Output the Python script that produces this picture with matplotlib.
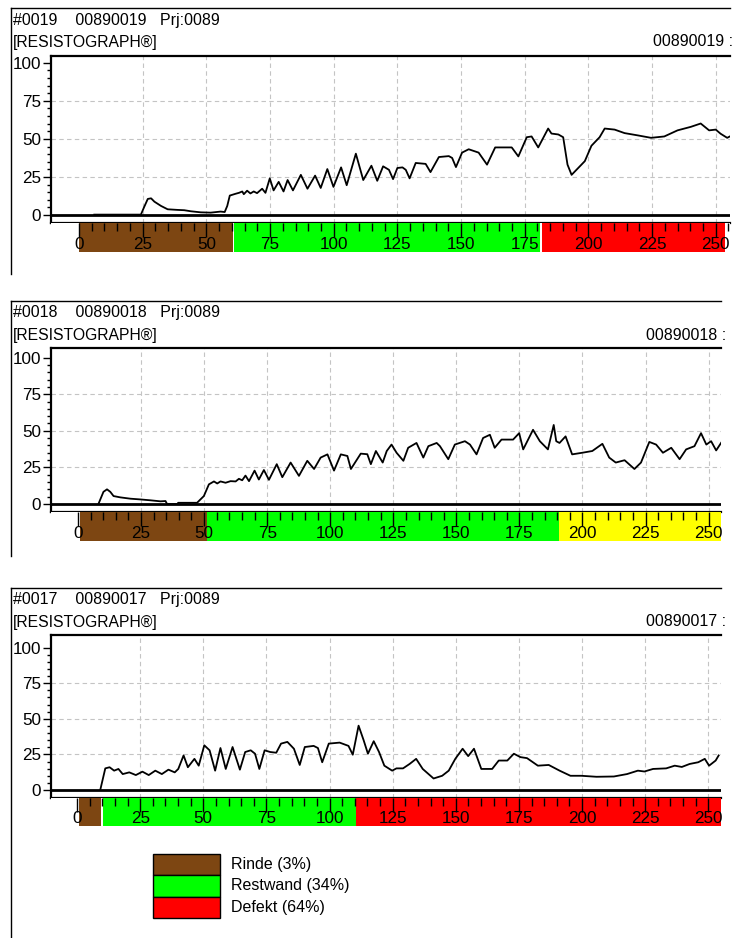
import matplotlib
matplotlib.use('Agg')
import matplotlib.pyplot as plt
from matplotlib.ticker import FixedLocator
from matplotlib.lines import Line2D
from matplotlib.patches import Rectangle

plt.rcParams['font.family'] = ['Liberation Sans', 'DejaVu Sans']
plt.rcParams['font.size'] = 11

# measurement numbers, project
ids = ['0019', '0018', '0017']
project = '0089'

# (depth, amplitude %)
profile_0019 = [
    (6, 0.3), (24.3, 0.3), (25.5, 5), (27, 10.6), (28.3, 11), (29.6, 8.8), (32.2, 6), (34.8, 3.8),
    (38.7, 3.4), (41.3, 3.2), (43.9, 2.5), (47.8, 1.8), (51.7, 1.6), (55.6, 2.3), (57.2, 2),
    (58.2, 6), (59.2, 12.8), (61.5, 14), (62.8, 14.6), (64.1, 15.5), (64.7, 13.7), (66, 16),
    (67.3, 14.2), (68.6, 15.5), (69.9, 14.4), (71.9, 17.3), (73.2, 14.6), (74.9, 24.1), (76.4, 16.2),
    (78.4, 21.8), (80.3, 15.5), (81.9, 23), (84, 16.2), (87.1, 26.4), (89.7, 17.3), (92.7, 25.9),
    (94.9, 17.8), (97.5, 30.2), (99.9, 18.5), (102.9, 31.3), (105.1, 19.6), (108.7, 40.3),
    (111.6, 23), (114.8, 32.4), (117.1, 22.5), (119.4, 32), (121.7, 29.7), (123.3, 23.6),
    (125, 30.9), (127, 31.3), (128.3, 29.7), (129.8, 24.1), (132.2, 34.2), (136.1, 33.6),
    (138, 28.2), (141.3, 38.1), (145.2, 38.7), (146.5, 37.5), (148, 31.5), (150.4, 41),
    (153, 43.2), (156.9, 41), (160.2, 33.1), (163.4, 44.4), (169.9, 44.4), (172.5, 38.5),
    (175.8, 51.1), (177.7, 51.6), (180.3, 44.4), (184.2, 56.8), (185.5, 53.5), (188.2, 52.9),
    (190.1, 51.1), (191.8, 33.1), (193.4, 26.4), (196, 30.9), (198.6, 35.4), (201.2, 45.5),
    (204.4, 51.1), (206.4, 56.8), (210.3, 56.1), (214.2, 53.8), (219.4, 52.3), (224.6, 50.7),
    (229.8, 51.6), (235, 55.6), (240.2, 57.9), (244.1, 60.1), (247.4, 55.6), (250, 56.1),
    (251.9, 53.4), (254.5, 50.7), (256, 52),
]
profile_0018 = [
    (8.2, 0.4), (10.1, 8.3), (11.5, 10), (12.8, 8.3), (14.1, 5.4), (16.8, 4.5), (20.8, 3.6),
    (24.7, 3.1), (28.7, 2.5), (32.7, 1.8), (34.7, 2), (35.3, 0), (39.5, 0), (39.7, 0.8), (47.2, 0.8),
    (49.9, 5.4), (51.9, 13.4), (53.9, 15.4), (55.2, 14), (56.5, 15.4), (58.5, 14.5), (60.5, 15.6),
    (62.5, 15.4), (63.8, 17.2), (65.1, 16.2), (66.4, 19.4), (67.8, 15.6), (70, 22.8), (71.7, 16.7),
    (73.7, 23.2), (75.7, 16.5), (78.8, 27.2), (81, 18.3), (84.3, 28.3), (87.6, 19.2), (90.9, 29.5),
    (93.6, 23.9), (96.2, 31.7), (98.9, 33.9), (101.5, 22.8), (104.2, 33.9), (106.8, 32.8),
    (108.2, 23.9), (112.1, 34.4), (114.7, 34), (116.1, 27.2), (118.1, 36.2), (120.8, 28.3),
    (122.4, 36.2), (124.3, 40.6), (126.3, 35), (129, 29.5), (130.9, 38.4), (134.2, 41.7),
    (136.9, 31.7), (138.9, 39.5), (142.2, 41.7), (143.5, 39.5), (146.8, 30.6), (149.4, 40.6),
    (153.4, 42.9), (155.4, 40.6), (158, 33.9), (160.6, 45.1), (163.3, 47.3), (165.2, 38.4),
    (167.9, 44), (172.5, 44), (174.9, 48.4), (176.5, 37.3), (180.4, 50.7), (183.1, 42.9),
    (186.3, 37.3), (188.6, 54), (189.6, 42.9), (190.9, 41.7), (193.3, 46.2), (195.9, 33.9),
    (199.9, 35), (203.9, 36.2), (207.9, 41.1), (210.6, 31.7), (213.2, 28.3), (216.7, 29.9),
    (220.6, 23.9), (223.2, 28.3), (226.5, 42.4), (229.2, 40.6), (231.9, 35), (235.2, 38.4),
    (238.5, 30.6), (241.1, 37.3), (244.4, 39.5), (247, 48.4), (249.1, 40.6), (251, 42.9),
    (253, 36.6), (255.4, 42.9),
]
profile_0017 = [
    (9.2, 0), (11.2, 15.2), (12.9, 16), (14.7, 13.6), (16.4, 14.8), (18.1, 11.2), (20.7, 12.4),
    (23.3, 10.5), (25.9, 12.9), (28.4, 10.5), (31, 13.6), (33.6, 11.2), (36.2, 14.3), (38.7, 12.4),
    (40.1, 14.8), (42.2, 24.3), (43.9, 16), (46.5, 21.9), (48.2, 17.1), (50.4, 31.4), (52.5, 27.9),
    (54.7, 13.6), (56.8, 29.5), (58.9, 14.8), (61.6, 30.2), (64.5, 14.3), (66.6, 26.7),
    (68.8, 27.9), (70.5, 25.5), (72.2, 14.8), (74.3, 27.9), (76.5, 26.7), (78.9, 26.2),
    (80.8, 32.6), (83.3, 33.8), (85.9, 29), (88.2, 17.6), (90.2, 30.2), (93.7, 31), (95.4, 29.5),
    (97.1, 19.5), (99.7, 32.6), (104, 33.3), (107.5, 31), (109.2, 24.8), (111.5, 45.2),
    (113.5, 35), (115.2, 25.5), (117.5, 34.3), (119.6, 26.7), (121.7, 17.1), (124.8, 13.6),
    (126.5, 15.2), (129.1, 15.2), (131.7, 18.3), (134.3, 21.9), (136.9, 14.8), (141.2, 8.1),
    (144.6, 10), (147.2, 13.6), (149.8, 21.9), (152.7, 29), (154.9, 23.8), (157.2, 29),
    (160.1, 14.8), (164.4, 14.8), (167, 20.7), (170.4, 20.7), (173, 25.5), (175.6, 23.1),
    (178.2, 22.4), (182.5, 17.1), (186.8, 17.6), (191.1, 13.6), (195.4, 10), (199.7, 10),
    (205.7, 9.3), (212.6, 9.5), (217.8, 11.2), (222.1, 13.6), (224.7, 13), (228.1, 14.8),
    (233.3, 15.2), (236.7, 17.1), (239.5, 16.2), (242.6, 18.3), (246, 19.5), (248.6, 21.9),
    (250.3, 17.1), (252.9, 20.7), (254.1, 24.3),
]
profiles = [profile_0019, profile_0018, profile_0017]

# zone bands under each curve: (zone, from, to)
zones_0019 = [('Rinde', 0, 60.4), ('Restwand', 61.0, 181.0), ('Defekt', 181.8, 253.6)]
zones_0018 = [('Rinde', 0.8, 51.0), ('Restwand', 51.0, 190.8), ('Markiert', 190.8, 256)]
zones_0017 = [('Rinde', 0.9, 9.4), ('Restwand', 10.4, 110.5), ('Defekt', 110.5, 256)]
zones = [zones_0019, zones_0018, zones_0017]

legend_names = ['Rinde', 'Restwand', 'Defekt']
legend_share = [3, 34, 64]

zone_colors = {'Rinde': '#7d4612', 'Restwand': '#00ff00', 'Defekt': '#ff0000', 'Markiert': '#ffff00'}

W, H = 741, 938
fig = plt.figure(figsize=(W / 100, H / 100), dpi=100)


def fx(px):
    return px / W


def fy(py):
    return 1 - py / H


# pixel layout of the three panels
layout = [
    dict(top=8, bottom=274, h1=20, h2=42, ax_top=56, ax_bot=222.7, bar_bot=252, right=730,
         xlim=(-11, 255.6), ylim=(-5, 104.4), rx=653),
    dict(top=301, bottom=556, h1=312, h2=335, ax_top=348.3, ax_bot=512.3, bar_bot=541, right=720.7,
         xlim=(-10.7, 254.8), ylim=(-5.7, 106.4), rx=646),
    dict(top=588, bottom=938, h1=599, h2=622, ax_top=635, ax_bot=797.7, bar_bot=825.7, right=720.7,
         xlim=(-10.3, 254.9), ylim=(-5.4, 108.9), rx=646),
]

for num, prof, zn, L in zip(ids, profiles, zones, layout):
    # frame + header texts
    fig.add_artist(Line2D([fx(11), fx(11)], [fy(L['top']), fy(L['bottom'])], color='black', lw=1))
    fig.add_artist(Line2D([fx(11), fx(L['right'])], [fy(L['top']), fy(L['top'])], color='black', lw=1))
    fig.text(fx(13), fy(L['h1']), f'#{num}    {project}{num}   Prj:{project}', va='center', fontsize=11.5)
    fig.text(fx(13), fy(L['h2']), '[RESISTOGRAPH®]', va='center', fontsize=11.3)
    fig.text(fx(L['rx']), fy(L['h2']), f'{project}{num} :', va='center', fontsize=11.5)

    # curve
    ax = fig.add_axes([fx(51), fy(L['ax_bot']), fx(L['right'] - 51), (L['ax_bot'] - L['ax_top']) / H])
    xs = [p[0] for p in prof]
    ys = [p[1] for p in prof]
    for g in range(25, 251, 25):
        ax.axvline(g, color='#c4c4c4', lw=0.8, ls=(0, (4, 3)), zorder=1)
    for g in (25, 50, 75):
        ax.axhline(g, color='#c4c4c4', lw=0.8, ls=(0, (4, 3)), zorder=1)
    ax.plot(xs, ys, color='black', lw=1.3, zorder=2)
    ax.axhline(0, color='black', lw=2, zorder=3)
    ax.set_xlim(*L['xlim'])
    ax.set_ylim(*L['ylim'])
    ax.yaxis.set_major_locator(FixedLocator(range(0, 101, 25)))
    ax.yaxis.set_minor_locator(FixedLocator(range(0, 101, 5)))
    ax.tick_params(axis='y', which='major', length=6, width=1, labelsize=12.3, pad=1)
    ax.tick_params(axis='y', which='minor', length=3, width=1)
    ax.tick_params(axis='x', which='both', length=0, labelbottom=False)
    ax.spines['right'].set_visible(False)
    for s in ('left', 'top', 'bottom'):
        ax.spines[s].set_linewidth(1.6)

    # zone band with depth scale
    bx = fig.add_axes([fx(51), fy(L['bar_bot']), fx(L['right'] - 51), (L['bar_bot'] - L['ax_bot']) / H])
    for name, a, b in zn:
        bx.axvspan(a, b, color=zone_colors[name], lw=0)
    bx.set_xlim(*L['xlim'])
    bx.set_ylim(0, 1)
    bx.xaxis.set_major_locator(FixedLocator(range(0, 251, 25)))
    bx.xaxis.set_minor_locator(FixedLocator(range(0, 256, 5)))
    bx.tick_params(axis='x', which='both', top=True, bottom=False, labelbottom=False,
                   direction='in', width=1, color='black')
    bx.tick_params(axis='x', which='major', length=10)
    bx.tick_params(axis='x', which='minor', length=6)
    bx.set_yticks([])
    for s in bx.spines.values():
        s.set_visible(False)
    for v in range(0, 251, 25):
        bx.text(v, 0.27, str(v), ha='center', va='center', fontsize=12.3)

# legend
for i, (name, share) in enumerate(zip(legend_names, legend_share)):
    y0 = 854 + 21.3 * i
    fig.add_artist(Rectangle((fx(153), fy(y0 + 21.3)), fx(67), 21.3 / H,
                             facecolor=zone_colors[name], edgecolor='black', lw=1))
    fig.text(fx(231), fy(y0 + 10.6), f'{name} ({share}%)', va='center', fontsize=11.5)

fig.savefig('out.png', dpi=100)
